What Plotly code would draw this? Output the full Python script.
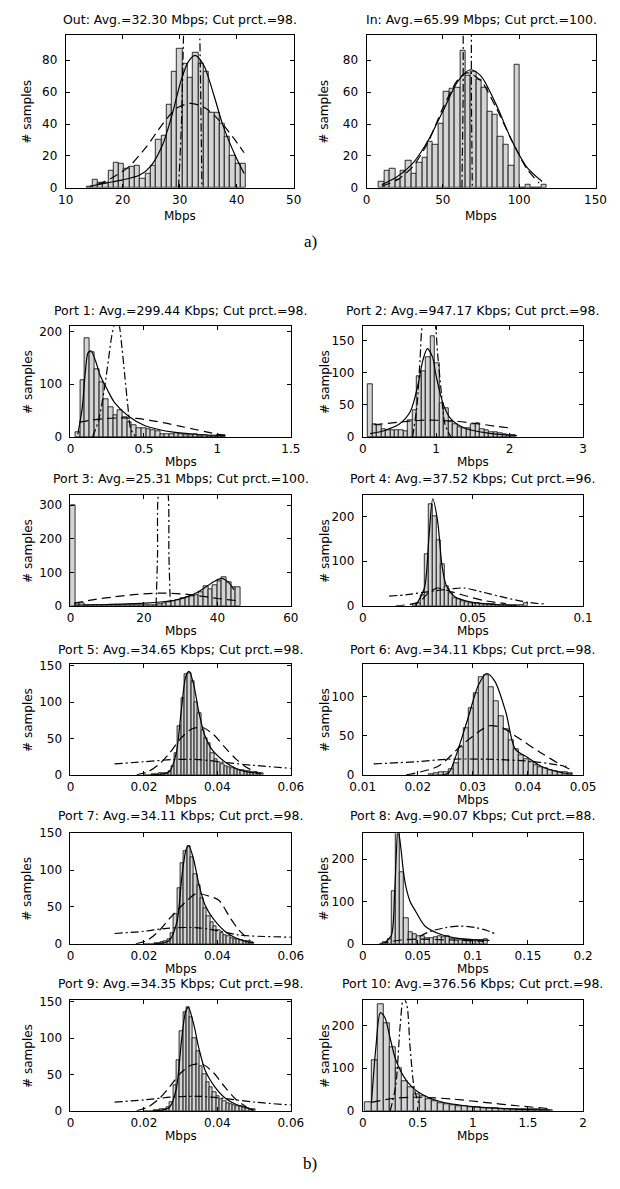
import plotly.graph_objects as go

W, H = 620, 1189

# ---------------- data ----------------
out_start, out_width = 14.2, 0.93
out_counts = [1, 5, 3, 3, 11, 16, 15, 12, 13, 14, 6, 9, 14, 30, 33, 52, 73, 87, 78, 69, 85, 78, 73, 47, 47, 40, 32, 20, 15, 15]
out_solid_x = [14.2, 17, 20, 23, 25, 27, 28.6, 30.3, 31.5, 32.7, 34.2, 36, 37.6, 39.9, 41.3]
out_solid_y = [1, 3, 5, 8, 14, 27, 45, 68, 79, 83, 77, 58, 39, 19, 9]
out_dash_x = [15.5, 18, 21, 24, 27, 29.5, 32, 34.5, 37, 39.5, 41.3]
out_dash_y = [2, 6, 13, 25, 40, 50, 53, 50, 42, 31, 22]
out_dd_x = [29.8, 30.3, 30.7, 31.0, 32.0, 33.2, 33.5, 33.9]
out_dd_y = [0, 40, 100, 140, 160, 140, 100, 0]

in_start, in_width = 9.8, 3.55
in_counts = [4, 11, 12, 5, 11, 17, 9, 16, 19, 29, 27, 40, 60, 62, 63, 86, 70, 73, 68, 63, 48, 46, 32, 27, 14, 77, 0, 2, 0, 0, 2]
in_solid_x = [10, 20, 30, 40, 50, 60, 68, 75, 85, 95, 105, 115]
in_solid_y = [2, 7, 15, 29, 48, 67, 74, 70, 52, 30, 13, 4]
in_dash_x = [10, 20, 30, 40, 50, 60, 66, 75, 85, 95, 105, 113]
in_dash_y = [1, 5, 13, 28, 50, 68, 72, 67, 50, 30, 12, 3]
in_dd_x = [62.5, 63.3, 63.8, 66, 68.2, 68.7, 69.3]
in_dd_y = [0, 60, 140, 160, 140, 60, 0]

p1_start, p1_width = 0.05, 0.032
p1_counts = [8, 108, 188, 160, 128, 103, 72, 57, 42, 50, 38, 27, 22, 17, 16, 14, 12, 10, 6, 5, 5, 7, 5, 4, 3, 6, 2, 4, 2, 1, 3, 3]
p1_solid_x = [0.05, 0.08, 0.1, 0.12, 0.14, 0.17, 0.2, 0.25, 0.3, 0.4, 0.5, 0.6, 0.7, 0.85, 1.05]
p1_solid_y = [5, 55, 120, 160, 163, 145, 118, 90, 65, 38, 22, 14, 9, 5, 2]
p1_dash_x = [0.06, 0.15, 0.25, 0.35, 0.45, 0.55, 0.65, 0.75, 0.85, 0.95, 1.05]
p1_dash_y = [28, 32, 35, 36, 35, 31, 26, 20, 14, 8, 3]
p1_dd_x = [0.15, 0.19, 0.23, 0.26, 0.28, 0.3, 0.315, 0.33, 0.35, 0.37, 0.39, 0.41, 0.44]
p1_dd_y = [0, 30, 90, 150, 190, 215, 225, 215, 170, 115, 60, 15, 2]

p2_start, p2_width = 0.1, 0.061
p2_counts = [82, 20, 18, 12, 10, 10, 10, 11, 9, 26, 42, 95, 103, 125, 157, 115, 53, 45, 25, 20, 15, 14, 14, 20, 21, 12, 10, 8, 7, 5, 4, 2, 2]
p2_solid_x = [0.1, 0.3, 0.5, 0.65, 0.75, 0.82, 0.88, 0.95, 1.0, 1.1, 1.2, 1.4, 1.7, 2.1]
p2_solid_y = [5, 10, 20, 40, 80, 120, 138, 125, 95, 50, 28, 13, 6, 2]
p2_dash_x = [0.15, 0.5, 0.8, 1.0, 1.3, 1.6, 1.85, 2.0]
p2_dash_y = [19, 23, 26, 26, 24, 20, 16, 14]
p2_dd_x = [0.68, 0.74, 0.78, 0.82, 0.9, 0.98, 1.02, 1.07, 1.12, 1.2]
p2_dd_y = [0, 50, 120, 180, 200, 180, 130, 70, 20, 0]

p3_start, p3_width = 0.6, 1.25
p3_counts = [300, 8, 7, 2, 1, 1, 1, 1, 1, 1, 1, 1, 1, 1, 1, 1, 2, 2, 3, 5, 8, 12, 15, 18, 22, 25, 30, 33, 40, 60, 50, 62, 75, 85, 70, 55, 55]
p3_solid_x = [1, 10, 20, 28, 33, 36, 39, 41.2, 43, 44.5]
p3_solid_y = [2, 4, 8, 16, 32, 50, 72, 82, 70, 48]
p3_dash_x = [1, 6, 12, 18, 24, 30, 35, 40, 45]
p3_dash_y = [8, 18, 27, 34, 38, 36, 30, 22, 16]
p3_dd_x = [23.3, 23.7, 24.0, 25.3, 26.5, 26.8, 27.2]
p3_dd_y = [0, 150, 340, 380, 340, 150, 0]

p4_start, p4_width = 0.0236, 0.0018
p4_counts = [3, 5, 25, 115, 228, 200, 147, 93, 45, 28, 18, 14, 10, 9, 7, 6, 5, 4, 4, 3, 3, 2, 2, 2, 2, 1, 1, 1, 6]
p4_solid_x = [0.024, 0.028, 0.030, 0.0318, 0.034, 0.036, 0.038, 0.042, 0.05, 0.06, 0.07]
p4_solid_y = [0, 40, 150, 240, 190, 90, 45, 20, 8, 3, 1]
p4_dash_x = [0.015, 0.022, 0.026, 0.03, 0.034, 0.038, 0.045, 0.055, 0.065]
p4_dash_y = [0, 4, 10, 30, 40, 35, 25, 12, 5]
p4_dd_x = [0.012, 0.02, 0.03, 0.04, 0.046, 0.055, 0.065, 0.075, 0.083]
p4_dd_y = [22, 25, 32, 38, 40, 30, 18, 8, 4]

p5_start, p5_width = 0.0225, 0.0009
p5_counts = [1, 1, 2, 2, 3, 5, 12, 30, 67, 105, 138, 140, 128, 100, 85, 62, 50, 43, 30, 22, 18, 15, 12, 10, 9, 8, 7, 6, 5, 5, 4, 4, 3, 3]
p5_solid_x = [0.02, 0.025, 0.027, 0.0288, 0.0302, 0.0314, 0.0323, 0.0335, 0.035, 0.0365, 0.0385, 0.042, 0.045, 0.048, 0.052]
p5_solid_y = [0, 1, 5, 30, 90, 135, 142, 125, 85, 55, 35, 18, 9, 4, 2]
p5_dash_x = [0.018, 0.021, 0.024, 0.027, 0.03, 0.033, 0.036, 0.039, 0.042, 0.045, 0.048, 0.051]
p5_dash_y = [0, 4, 14, 30, 50, 63, 65, 55, 38, 22, 10, 3]
p5_dd_x = [0.012, 0.02, 0.028, 0.035, 0.042, 0.05, 0.06]
p5_dd_y = [15, 18, 21, 21, 17, 13, 9]

p6_start, p6_width = 0.0225, 0.0009
p6_counts = [1, 2, 3, 4, 7, 15, 35, 60, 85, 105, 125, 128, 112, 95, 75, 58, 45, 33, 25, 20, 16, 13, 10, 8, 6, 5, 4, 3, 2]
p6_solid_x = [0.0179, 0.0255, 0.0267, 0.029, 0.031, 0.0325, 0.034, 0.036, 0.0377, 0.04, 0.0424, 0.046, 0.048]
p6_solid_y = [0, 2, 20, 70, 115, 130, 120, 80, 33, 22, 11, 3, 1]
p6_dash_x = [0.0179, 0.0237, 0.0278, 0.031, 0.033, 0.0355, 0.0377, 0.0424, 0.0465, 0.048]
p6_dash_y = [0, 11, 37, 55, 63, 60, 50, 28, 11, 6]
p6_dd_x = [0.012, 0.02, 0.0255, 0.033, 0.041, 0.047]
p6_dd_y = [14, 17, 20, 20, 17, 11]

p7_start, p7_width = 0.0232, 0.0009
p7_counts = [1, 1, 2, 3, 6, 15, 40, 75, 110, 125, 133, 118, 95, 80, 62, 48, 38, 30, 24, 18, 14, 12, 10, 8, 7, 6, 5, 4, 3, 2]
p7_solid_x = [0.02, 0.025, 0.027, 0.029, 0.0303, 0.0315, 0.0322, 0.0335, 0.035, 0.0367, 0.039, 0.042, 0.045, 0.048, 0.05]
p7_solid_y = [0, 1, 5, 30, 90, 128, 133, 115, 80, 52, 33, 17, 8, 3, 1]
p7_dash_x = [0.0178, 0.021, 0.024, 0.0271, 0.031, 0.0342, 0.0375, 0.0404, 0.0435, 0.0458, 0.049]
p7_dash_y = [0, 5, 17, 35, 55, 68, 65, 59, 35, 19, 4]
p7_dd_x = [0.012, 0.02, 0.0262, 0.034, 0.04, 0.0458, 0.06]
p7_dd_y = [14, 17, 21, 22, 18, 12, 9]

p8_start, p8_width = 0.0205, 0.0038
p8_counts = [5, 10, 125, 270, 170, 60, 28, 22, 18, 17, 14, 13, 15, 17, 16, 17, 12, 10, 9, 8, 9, 7, 8, 9, 12]
p8_solid_x = [0.02, 0.026, 0.029, 0.032, 0.034, 0.037, 0.039, 0.043, 0.048, 0.0565, 0.068, 0.083, 0.1, 0.115]
p8_solid_y = [2, 20, 120, 270, 240, 170, 137, 100, 77, 42, 25, 14, 10, 8]
p8_dash_x = [0.015, 0.025, 0.035, 0.05, 0.08, 0.11]
p8_dash_y = [0, 5, 9, 11, 9, 6]
p8_dd_x = [0.052, 0.062, 0.075, 0.088, 0.103, 0.112, 0.12]
p8_dd_y = [18, 30, 38, 42, 38, 32, 24]

p9_start, p9_width = 0.0230, 0.0009
p9_counts = [1, 1, 2, 3, 5, 12, 35, 70, 110, 135, 143, 128, 100, 82, 62, 50, 40, 32, 25, 20, 16, 13, 11, 9, 8, 7, 6, 5, 4, 3, 2]
p9_solid_x = [0.02, 0.025, 0.027, 0.0288, 0.0302, 0.0313, 0.0321, 0.0335, 0.035, 0.0367, 0.039, 0.042, 0.045, 0.048, 0.05]
p9_solid_y = [0, 1, 5, 30, 95, 135, 142, 120, 85, 55, 35, 18, 9, 4, 1]
p9_dash_x = [0.018, 0.021, 0.024, 0.027, 0.03, 0.033, 0.036, 0.039, 0.042, 0.045, 0.048]
p9_dash_y = [0, 5, 16, 33, 52, 63, 64, 52, 33, 16, 5]
p9_dd_x = [0.012, 0.02, 0.028, 0.035, 0.042, 0.05, 0.06]
p9_dd_y = [12, 15, 19, 20, 17, 12, 8]

p10_start, p10_width = 0.05, 0.055
p10_counts = [20, 120, 250, 205, 150, 100, 70, 55, 40, 35, 28, 22, 18, 15, 13, 12, 10, 9, 8, 7, 6, 6, 5, 5, 4, 4, 3, 3, 3, 2, 2]
p10_solid_x = [0.08, 0.12, 0.16, 0.2, 0.25, 0.3, 0.4, 0.5, 0.7, 1.0, 1.3, 1.7]
p10_solid_y = [20, 150, 230, 220, 170, 120, 70, 45, 22, 10, 5, 2]
p10_dash_x = [0.08, 0.3, 0.5, 0.8, 1.1, 1.4, 1.7]
p10_dash_y = [20, 30, 32, 28, 20, 12, 5]
p10_dd_x = [0.25, 0.3, 0.34, 0.37, 0.4, 0.43, 0.47, 0.52]
p10_dd_y = [0, 60, 200, 265, 250, 150, 50, 10]

# ---------------- panels (layout only) ----------------
L_COL = (60, 290)
R_COL = (365, 595)
ROWS = [(323, 435), (494, 606), (665, 777), (836, 948), (1005, 1117)]

panels = [
    dict(title="Out: Avg.=32.30 Mbps; Cut prct.=98.", box=(55, 28, 293, 183), ty=13, ly=211,
         xr=[10, 50], xt=[10, 20, 30, 40, 50], yr=[0, 96], yt=[0, 20, 40, 60, 80],
         d=(out_start, out_width, out_counts, out_solid_x, out_solid_y, out_dash_x, out_dash_y, out_dd_x, out_dd_y)),
    dict(title="In: Avg.=65.99 Mbps; Cut prct.=100.", box=(369, 28, 608, 183), ty=13, ly=211,
         xr=[0, 150], xt=[0, 50, 100, 150], yr=[0, 96], yt=[0, 20, 40, 60, 80],
         d=(in_start, in_width, in_counts, in_solid_x, in_solid_y, in_dash_x, in_dash_y, in_dd_x, in_dd_y)),
]
ports = [
    ("Port 1: Avg.=299.44 Kbps; Cut prct.=98.", [0, 1.5], [0, 0.5, 1, 1.5], [0, 210], [0, 100, 200],
     (p1_start, p1_width, p1_counts, p1_solid_x, p1_solid_y, p1_dash_x, p1_dash_y, p1_dd_x, p1_dd_y)),
    ("Port 2: Avg.=947.17 Kbps; Cut prct.=98.", [0, 3], [0, 1, 2, 3], [0, 173], [0, 50, 100, 150],
     (p2_start, p2_width, p2_counts, p2_solid_x, p2_solid_y, p2_dash_x, p2_dash_y, p2_dd_x, p2_dd_y)),
    ("Port 3: Avg.=25.31 Mbps; Cut prct.=100.", [0, 60], [0, 20, 40, 60], [0, 330], [0, 100, 200, 300],
     (p3_start, p3_width, p3_counts, p3_solid_x, p3_solid_y, p3_dash_x, p3_dash_y, p3_dd_x, p3_dd_y)),
    ("Port 4: Avg.=37.52 Kbps; Cut prct.=96.", [0, 0.1], [0, 0.05, 0.1], [0, 248], [0, 100, 200],
     (p4_start, p4_width, p4_counts, p4_solid_x, p4_solid_y, p4_dash_x, p4_dash_y, p4_dd_x, p4_dd_y)),
    ("Port 5: Avg.=34.65 Kbps; Cut prct.=98.", [0, 0.06], [0, 0.02, 0.04, 0.06], [0, 152], [0, 50, 100, 150],
     (p5_start, p5_width, p5_counts, p5_solid_x, p5_solid_y, p5_dash_x, p5_dash_y, p5_dd_x, p5_dd_y)),
    ("Port 6: Avg.=34.11 Kbps; Cut prct.=98.", [0.01, 0.05], [0.01, 0.02, 0.03, 0.04, 0.05], [0, 142], [0, 50, 100],
     (p6_start, p6_width, p6_counts, p6_solid_x, p6_solid_y, p6_dash_x, p6_dash_y, p6_dd_x, p6_dd_y)),
    ("Port 7: Avg.=34.11 Kbps; Cut prct.=98.", [0, 0.06], [0, 0.02, 0.04, 0.06], [0, 150], [0, 50, 100, 150],
     (p7_start, p7_width, p7_counts, p7_solid_x, p7_solid_y, p7_dash_x, p7_dash_y, p7_dd_x, p7_dd_y)),
    ("Port 8: Avg.=90.07 Kbps; Cut prct.=88.", [0, 0.2], [0, 0.05, 0.1, 0.15, 0.2], [0, 261], [0, 100, 200],
     (p8_start, p8_width, p8_counts, p8_solid_x, p8_solid_y, p8_dash_x, p8_dash_y, p8_dd_x, p8_dd_y)),
    ("Port 9: Avg.=34.35 Kbps; Cut prct.=98.", [0, 0.06], [0, 0.02, 0.04, 0.06], [0, 152], [0, 50, 100, 150],
     (p9_start, p9_width, p9_counts, p9_solid_x, p9_solid_y, p9_dash_x, p9_dash_y, p9_dd_x, p9_dd_y)),
    ("Port 10: Avg.=376.56 Kbps; Cut prct.=98.", [0, 2], [0, 0.5, 1, 1.5, 2], [0, 260], [0, 100, 200],
     (p10_start, p10_width, p10_counts, p10_solid_x, p10_solid_y, p10_dash_x, p10_dash_y, p10_dd_x, p10_dd_y)),
]
TITLE_Y = [307, 477, 650, 818, 988]
LABEL_Y = [460, 631, 802, 973, 1142]
for k, (title, xr, xt, yr, yt, d) in enumerate(ports):
    r, c = divmod(k, 2)
    cl, cr = L_COL if c == 0 else R_COL
    t, b = ROWS[r]
    panels.append(dict(title=title, box=(cl, t, cr, b), ty=TITLE_Y[r], ly=LABEL_Y[r],
                       xr=xr, xt=xt, yr=yr, yt=yt, d=d))

FONT = "DejaVu Sans"
fig = go.Figure()
layout = dict(width=W, height=H, margin=dict(l=0, r=0, t=0, b=0),
              paper_bgcolor="white", plot_bgcolor="white", showlegend=False,
              bargap=0, annotations=[])

for i, p in enumerate(panels):
    n = i + 1
    sx = "" if n == 1 else str(n)
    xref, yref = "x" + sx, "y" + sx
    start, width, counts, sxs, sys_, dxs, dys, ddx, ddy = p["d"]
    centers = [start + j * width for j in range(len(counts))]
    fig.add_trace(go.Bar(x=centers, y=counts, width=width, xaxis=xref, yaxis=yref,
                         marker=dict(color="#d4d4d4", line=dict(color="black", width=0.8))))
    for xs, ys, dash in ((sxs, sys_, "solid"), (dxs, dys, "9px,5px"), (ddx, ddy, "8px,3px,2px,3px")):
        fig.add_trace(go.Scatter(x=xs, y=ys, mode="lines", xaxis=xref, yaxis=yref,
                                 line=dict(color="black", width=1.2, dash=dash, shape="spline", smoothing=0.8)))
    L, T, R, B = p["box"]
    ax_common = dict(showline=True, mirror="ticks", linecolor="black", linewidth=1,
                     ticks="inside", ticklen=4, tickcolor="black", showgrid=False, zeroline=False,
                     tickfont=dict(family=FONT, size=12, color="black"), tickmode="array")
    layout["xaxis" + sx] = dict(domain=[L / W, R / W], anchor=yref, range=p["xr"], tickvals=p["xt"],
                                ticklabelstandoff=1, **ax_common)
    layout["yaxis" + sx] = dict(domain=[1 - B / H, 1 - T / H], anchor=xref, range=p["yr"], tickvals=p["yt"],
                                ticklabelstandoff=5, **ax_common)
    cx = (L + R) / 2
    layout["annotations"].append(dict(text=p["title"], x=cx / W, y=1 - p["ty"] / H, xref="paper", yref="paper",
                                      showarrow=False, xanchor="center", yanchor="middle",
                                      font=dict(family=FONT, size=12.5, color="black")))
    layout["annotations"].append(dict(text="Mbps", x=cx / W, y=1 - p["ly"] / H, xref="paper", yref="paper",
                                      showarrow=False, xanchor="center", yanchor="middle",
                                      font=dict(family=FONT, size=12, color="black")))
    lx = 15 if L < 300 else 325
    layout["annotations"].append(dict(text="# samples", x=lx / W, y=1 - (T + B) / 2 / H, xref="paper", yref="paper",
                                      showarrow=False, xanchor="center", yanchor="middle", textangle=-90,
                                      font=dict(family=FONT, size=12, color="black")))

for txt, yy in (("a)", 237), ("b)", 1170)):
    layout["annotations"].append(dict(text=txt, x=310 / W, y=1 - yy / H, xref="paper", yref="paper",
                                      showarrow=False, xanchor="center", yanchor="middle",
                                      font=dict(family="Liberation Serif", size=17, color="black")))

fig.update_layout(**layout)
fig.write_html("out.html")
